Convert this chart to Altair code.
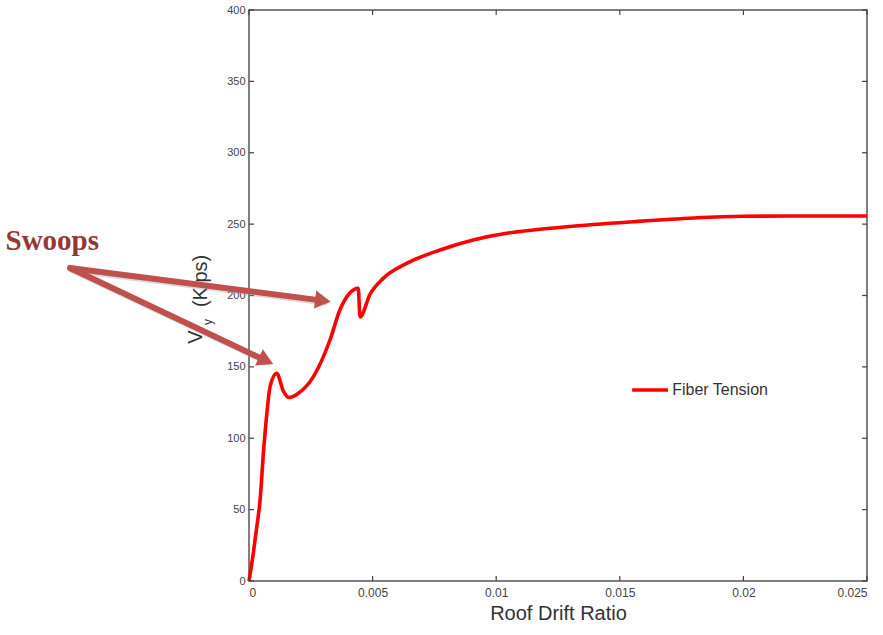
import altair as alt
import pandas as pd

# ---- data ----
drift = [0, 0.00017, 0.00030, 0.00045, 0.00058, 0.00072, 0.00085, 0.00112,
         0.00139, 0.00162, 0.0020, 0.0026, 0.00328, 0.00368, 0.00442,
         0.00449, 0.0049, 0.00543, 0.00638, 0.00773, 0.00907, 0.01042, 0.0115,
         0.01285, 0.01555, 0.0180, 0.0200, 0.0220, 0.0250]
shear = [0, 19, 36, 57, 89, 117, 136, 145.5, 133, 128.5, 131.5, 143, 169, 190, 205,
         185, 201, 212, 222.5, 231.9, 238.9, 243.6, 245.9, 248.2, 251.7,
         254.3, 255.5, 255.7, 255.7]

x_ticks = [0, 0.005, 0.01, 0.015, 0.02, 0.025]
y_ticks = [0, 50, 100, 150, 200, 250, 300, 350, 400]

series_name = "Fiber Tension"
annotation_text = "Swoops"

# annotation anchors (data units)
arrow_start = (-0.00724, 219.3)
arrow_ends = [(0.00299, 196.4), (0.00069, 154.3)]
arrow_angles = [7.5, 25.3]

X_DOM = [0, 0.025]
Y_DOM = [0, 400]
W, H = 618, 571
tick_dx = 5 * (X_DOM[1] - X_DOM[0]) / W
tick_dy = 5 * (Y_DOM[1] - Y_DOM[0]) / H

FONT = "Liberation Sans"
xs = alt.Scale(domain=X_DOM, nice=False, zero=False)
ys = alt.Scale(domain=Y_DOM, nice=False)

curve_df = pd.DataFrame({"x": drift, "y": shear})

curve = alt.Chart(curve_df).mark_line(color="#ff0000", strokeWidth=3.6,
                                      interpolate="monotone").encode(
    x=alt.X("x:Q", scale=xs,
            axis=alt.Axis(values=x_ticks, format="~g", ticks=False, domain=False, grid=False,
                          labelFont=FONT, labelFontSize=12, labelColor="#444",
                          labelPadding=6, title="Roof Drift Ratio", titleFont=FONT,
                          titleFontSize=20, titleFontWeight="normal", titleColor="#333",
                          titlePadding=5)),
    y=alt.Y("y:Q", scale=ys,
            axis=alt.Axis(values=y_ticks, ticks=False, domain=False, grid=False,
                          labelFont=FONT, labelFontSize=11, labelColor="#444",
                          labelPadding=4, title=None)),
)

# inward ticks on all four sides
yt = pd.DataFrame({"y": y_ticks})
xt = pd.DataFrame({"x": x_ticks})
tick_style = dict(color="#444", strokeWidth=1.2)
left_t = alt.Chart(yt).mark_rule(**tick_style).encode(
    x=alt.datum(X_DOM[0], scale=xs), x2=alt.datum(X_DOM[0] + tick_dx), y=alt.Y("y:Q", scale=ys))
right_t = alt.Chart(yt).mark_rule(**tick_style).encode(
    x=alt.datum(X_DOM[1] - tick_dx, scale=xs), x2=alt.datum(X_DOM[1]), y=alt.Y("y:Q", scale=ys))
bot_t = alt.Chart(xt).mark_rule(**tick_style).encode(
    x=alt.X("x:Q", scale=xs), y=alt.datum(Y_DOM[0], scale=ys), y2=alt.datum(Y_DOM[0] + tick_dy))
top_t = alt.Chart(xt).mark_rule(**tick_style).encode(
    x=alt.X("x:Q", scale=xs), y=alt.datum(Y_DOM[1] - tick_dy, scale=ys), y2=alt.datum(Y_DOM[1]))

# y-axis title built from pieces (V with subscript y)
ytitle_df = pd.DataFrame({
    "x": [-0.00214, -0.00164, -0.00194],
    "y": [170.9, 181.4, 210.2],
    "t": ["V", "y", "(Kips)"],
    "s": [20, 12, 20],
})
ytitle = alt.Chart(ytitle_df).mark_text(angle=270, align="center", baseline="middle",
                                        font=FONT, color="#333").encode(
    x=alt.X("x:Q", scale=xs), y=alt.Y("y:Q", scale=ys), text="t:N",
    size=alt.Size("s:Q", scale=None, legend=None))

# legend (manual)
leg_line = alt.Chart(pd.DataFrame({"x": [0.0155], "x2": [0.01695], "y": [133.8]})).mark_rule(
    color="#ff0000", strokeWidth=3.6).encode(
    x=alt.X("x:Q", scale=xs), x2="x2:Q", y=alt.Y("y:Q", scale=ys))
leg_text = alt.Chart(pd.DataFrame({"x": [0.01712], "y": [133.8], "t": [series_name]})).mark_text(
    align="left", baseline="middle", font=FONT, fontSize=16, color="#333").encode(
    x=alt.X("x:Q", scale=xs), y=alt.Y("y:Q", scale=ys), text="t:N")

# annotation: text + arrows
ann_text = alt.Chart(pd.DataFrame({"x": [-0.00985], "y": [231.9], "t": [annotation_text]})).mark_text(
    align="left", baseline="alphabetic", font="Liberation Serif", fontWeight="bold",
    fontSize=29, color="#953735").encode(
    x=alt.X("x:Q", scale=xs), y=alt.Y("y:Q", scale=ys), text="t:N")

arrow_df = pd.DataFrame({
    "x": [arrow_start[0]] * 2, "y": [arrow_start[1]] * 2,
    "x2": [e[0] for e in arrow_ends], "y2": [e[1] for e in arrow_ends],
    "a": arrow_angles,
})
shadow = alt.Chart(arrow_df).mark_rule(color="#999999", strokeWidth=6, opacity=0.35,
                                       strokeCap="round", xOffset=2, yOffset=2, x2Offset=2, y2Offset=2).encode(
    x=alt.X("x:Q", scale=xs), y=alt.Y("y:Q", scale=ys), x2="x2:Q", y2="y2:Q")
shafts = alt.Chart(arrow_df).mark_rule(color="#C0504D", strokeWidth=6, strokeCap="round").encode(
    x=alt.X("x:Q", scale=xs), y=alt.Y("y:Q", scale=ys), x2="x2:Q", y2="y2:Q")
heads = alt.Chart(arrow_df).mark_point(shape="triangle-right", filled=True, size=330,
                                        color="#C0504D", opacity=1).encode(
    x=alt.X("x2:Q", scale=xs), y=alt.Y("y2:Q", scale=ys),
    angle=alt.Angle("a:Q", scale=None))

chart = alt.layer(
    curve, left_t, right_t, bot_t, top_t, ytitle, leg_line, leg_text,
    shadow, shafts, heads, ann_text,
).properties(
    width=W, height=H,
    padding={"left": 249, "top": 10, "right": 16, "bottom": 54},
    autosize=alt.AutoSizeParams(type="none"),
    background="white",
).configure_view(stroke="#555", strokeWidth=1.5)

chart.save("out.html", embed_options={"renderer": "svg", "actions": False})
